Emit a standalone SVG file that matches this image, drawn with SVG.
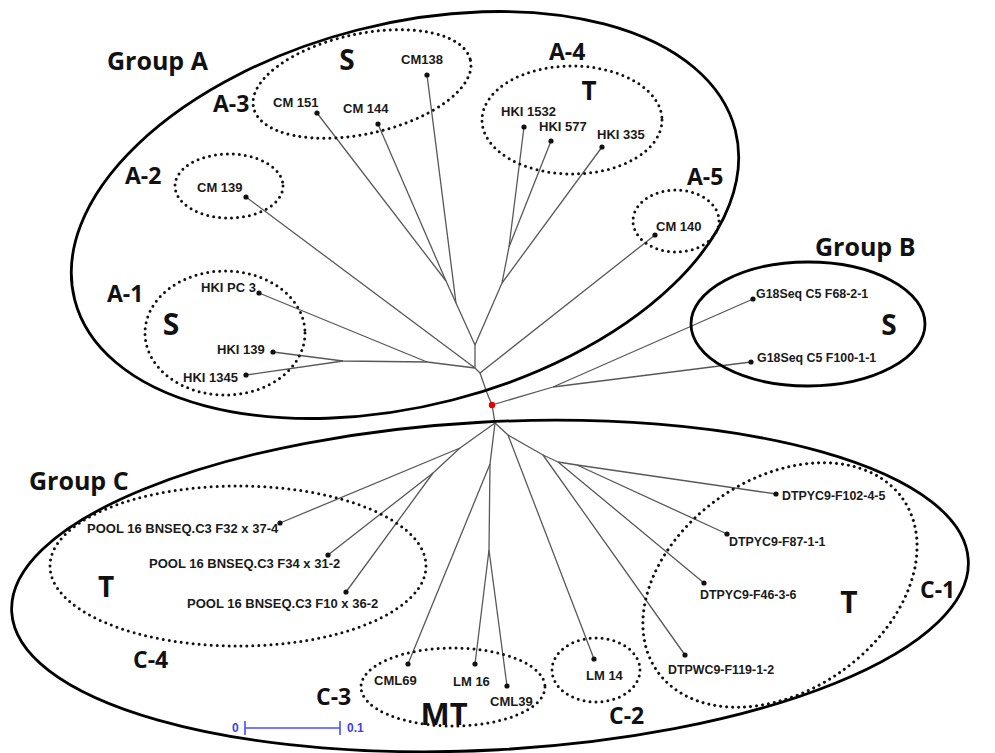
<svg xmlns="http://www.w3.org/2000/svg" width="995" height="753" viewBox="0 0 995 753">
<style>
.lbl{font-family:"Liberation Sans",Arial,sans-serif;font-weight:bold;font-size:13px;fill:#1a1a1a}
.sm{font-size:12.4px}
.big{font-family:"Open Sans","Liberation Sans",sans-serif;font-weight:700;fill:#111}
.br{stroke:#585858;stroke-width:1.3;fill:none;stroke-linejoin:round}
.dot{fill:#111}
.dotted{fill:none;stroke:#111;stroke-width:3;stroke-dasharray:0 6;stroke-linecap:round}
.solid{fill:none;stroke:#000;stroke-width:2.8}
.scale{stroke:#4d4dff;stroke-width:1.6;fill:none}
.stxt{font-family:"Liberation Sans",Arial,sans-serif;font-weight:bold;font-size:12px;fill:#3d3df0}
</style>
<rect width="995" height="753" fill="#fff"/>

<g id="connectors">
<path class="br" d="M492,405 L487,393 L480,373"/>
<path class="br" d="M480,373 L655,235"/>
<path class="br" d="M480,373 L475,368"/>
<path class="br" d="M475,368 L246,197"/>
<path class="br" d="M475,368 L427,362 L343,361 L273,352"/>
<path class="br" d="M343,361 L246,375"/>
<path class="br" d="M427,362 L259,293"/>
<path class="br" d="M475,368 L475,345"/>
<path class="br" d="M475,345 L456,303 L427,75"/>
<path class="br" d="M456,303 L446,281 L317,113"/>
<path class="br" d="M446,281 L378,124"/>
<path class="br" d="M475,345 L502,283 L509,247 L524,127"/>
<path class="br" d="M509,247 L551,141"/>
<path class="br" d="M502,283 L602,147"/>
<path class="br" d="M492,405 L553,387 L753,299"/>
<path class="br" d="M553,387 L751,362"/>
<path class="br" d="M492,405 L495,423"/>
<path class="br" d="M495,423 L460,448 L280,523"/>
<path class="br" d="M460,448 L433,473 L328,555"/>
<path class="br" d="M433,473 L346,592"/>
<path class="br" d="M495,423 L490,464 L408,664"/>
<path class="br" d="M490,464 L489,550 L475,664"/>
<path class="br" d="M489,550 L507,686"/>
<path class="br" d="M495,423 L508,435 L594,659"/>
<path class="br" d="M508,435 L543,455 L685,655"/>
<path class="br" d="M543,455 L558,462 L704,583"/>
<path class="br" d="M558,462 L577,465 L727,534"/>
<path class="br" d="M577,465 L776,494"/>
</g>

<g id="group-a">
<ellipse class="solid" cx="405" cy="215" rx="341" ry="191" transform="rotate(-14.4 405 215)"/>
<text class="big" x="107" y="70" font-size="25">Group A</text>
</g>
<g id="cluster-a3">
<ellipse class="dotted" cx="362" cy="84" rx="111" ry="50" transform="rotate(-12.3 362 84)"/>
<text class="big" x="213" y="112" font-size="23">A-3</text>
<text class="big" x="347" y="70" font-size="28" text-anchor="middle">S</text>
</g>
<g id="cluster-a2">
<ellipse class="dotted" cx="229" cy="186" rx="54" ry="32"/>
<text class="big" x="125" y="184" font-size="23">A-2</text>
</g>
<g id="cluster-a4">
<ellipse class="dotted" cx="572" cy="120" rx="90" ry="54"/>
<text class="big" x="549" y="60" font-size="23">A-4</text>
<text class="big" x="589" y="100" font-size="26" text-anchor="middle">T</text>
</g>
<g id="cluster-a5">
<ellipse class="dotted" cx="676" cy="221" rx="43" ry="31"/>
<text class="big" x="687" y="185" font-size="23">A-5</text>
</g>
<g id="cluster-a1">
<ellipse class="dotted" cx="225" cy="333" rx="80" ry="62"/>
<text class="big" x="107" y="302" font-size="23">A-1</text>
<text class="big" x="171" y="335" font-size="30" text-anchor="middle">S</text>
</g>
<g id="group-b">
<ellipse class="solid" cx="808" cy="324" rx="117" ry="62"/>
<text class="big" x="815" y="256" font-size="25">Group B</text>
<text class="big" x="889" y="335" font-size="28" text-anchor="middle">S</text>
</g>
<g id="group-c">
<ellipse class="solid" cx="490" cy="586" rx="479" ry="164" transform="rotate(-3.1 490 586)"/>
<text class="big" x="29" y="490" font-size="25">Group C</text>
</g>
<g id="cluster-c4">
<ellipse class="dotted" cx="238" cy="566" rx="188" ry="80"/>
<text class="big" x="133" y="668" font-size="23">C-4</text>
<text class="big" x="106" y="597" font-size="28" text-anchor="middle">T</text>
</g>
<g id="cluster-c3">
<ellipse class="dotted" cx="453" cy="687" rx="92" ry="39"/>
<text class="big" x="316" y="705" font-size="23">C-3</text>
<text class="big" x="444" y="725" font-size="31" text-anchor="middle">MT</text>
</g>
<g id="cluster-c2">
<ellipse class="dotted" cx="596" cy="670" rx="44" ry="32"/>
<text class="big" x="609" y="724" font-size="23">C-2</text>
</g>
<g id="cluster-c1">
<ellipse class="dotted" cx="780" cy="585" rx="150" ry="106" transform="rotate(-35 780 585)"/>
<text class="big" x="920" y="598" font-size="23">C-1</text>
<text class="big" x="849" y="613" font-size="30" text-anchor="middle">T</text>
</g>

<g id="root"><circle cx="492" cy="405" r="3.2" fill="#e00000"/></g>

<g id="cm138"><circle class="dot" cx="427" cy="75" r="2.6"/><text class="lbl" x="401" y="64">CM138</text></g>
<g id="cm151"><circle class="dot" cx="317" cy="113" r="2.6"/><text class="lbl" x="273" y="107">CM 151</text></g>
<g id="cm144"><circle class="dot" cx="378" cy="124" r="2.6"/><text class="lbl" x="343" y="113">CM 144</text></g>
<g id="cm139"><circle class="dot" cx="246" cy="197" r="2.6"/><text class="lbl" x="197" y="192">CM 139</text></g>
<g id="hki1532"><circle class="dot" cx="524" cy="127" r="2.6"/><text class="lbl" x="501" y="116">HKI 1532</text></g>
<g id="hki577"><circle class="dot" cx="551" cy="141" r="2.6"/><text class="lbl" x="539" y="131">HKI 577</text></g>
<g id="hki335"><circle class="dot" cx="602" cy="147" r="2.6"/><text class="lbl" x="597" y="139">HKI 335</text></g>
<g id="cm140"><circle class="dot" cx="655" cy="235" r="2.6"/><text class="lbl" x="656" y="231">CM 140</text></g>
<g id="hkipc3"><circle class="dot" cx="259" cy="293" r="2.6"/><text class="lbl" x="201" y="292">HKI PC 3</text></g>
<g id="hki139"><circle class="dot" cx="273" cy="352" r="2.6"/><text class="lbl" x="217" y="354">HKI 139</text></g>
<g id="hki1345"><circle class="dot" cx="246" cy="375" r="2.6"/><text class="lbl" x="183" y="382">HKI 1345</text></g>
<g id="g18-f68"><circle class="dot" cx="753" cy="299" r="2.6"/><text class="lbl sm" x="756" y="298">G18Seq C5 F68-2-1</text></g>
<g id="g18-f100"><circle class="dot" cx="751" cy="362" r="2.6"/><text class="lbl sm" x="757" y="362">G18Seq C5 F100-1-1</text></g>
<g id="pool-f32"><circle class="dot" cx="280" cy="523" r="2.6"/><text class="lbl" x="87" y="533">POOL 16 BNSEQ.C3 F32 x 37-4</text></g>
<g id="pool-f34"><circle class="dot" cx="328" cy="555" r="2.6"/><text class="lbl" x="149" y="568">POOL 16 BNSEQ.C3 F34 x 31-2</text></g>
<g id="pool-f10"><circle class="dot" cx="346" cy="592" r="2.6"/><text class="lbl" x="187" y="608">POOL 16 BNSEQ.C3 F10 x 36-2</text></g>
<g id="cml69"><circle class="dot" cx="408" cy="664" r="2.6"/><text class="lbl" x="374" y="685">CML69</text></g>
<g id="lm16"><circle class="dot" cx="475" cy="664" r="2.6"/><text class="lbl" x="453" y="686">LM 16</text></g>
<g id="cml39"><circle class="dot" cx="507" cy="686" r="2.6"/><text class="lbl" x="490" y="706">CML39</text></g>
<g id="lm14"><circle class="dot" cx="594" cy="659" r="2.6"/><text class="lbl" x="586" y="680">LM 14</text></g>
<g id="dtpwc9-f119"><circle class="dot" cx="685" cy="655" r="2.6"/><text class="lbl sm" x="668" y="674">DTPWC9-F119-1-2</text></g>
<g id="dtpyc9-f46"><circle class="dot" cx="704" cy="583" r="2.6"/><text class="lbl sm" x="700" y="599">DTPYC9-F46-3-6</text></g>
<g id="dtpyc9-f87"><circle class="dot" cx="727" cy="534" r="2.6"/><text class="lbl sm" x="729" y="546">DTPYC9-F87-1-1</text></g>
<g id="dtpyc9-f102"><circle class="dot" cx="776" cy="494" r="2.6"/><text class="lbl sm" x="782" y="500">DTPYC9-F102-4-5</text></g>

<g id="scale-bar">
<path class="scale" d="M245,728 H340 M245,721 V735 M340,721 V735"/>
<text class="stxt" x="232" y="732">0</text>
<text class="stxt" x="347" y="732">0.1</text>
</g>
</svg>
